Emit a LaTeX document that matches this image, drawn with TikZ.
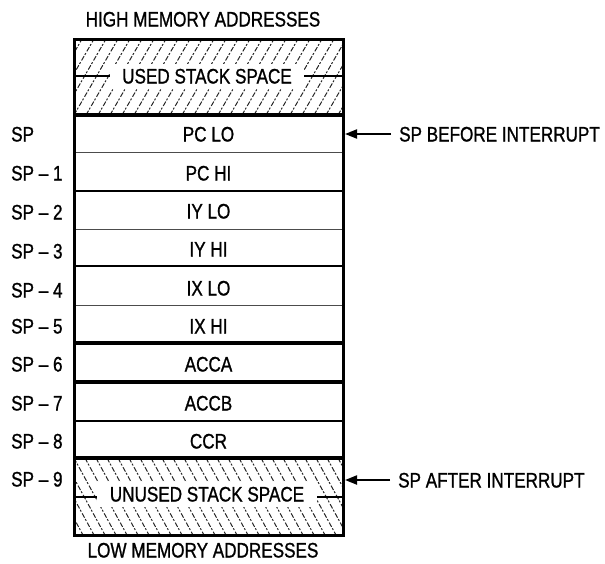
\documentclass[tikz,border=0pt]{standalone}
\usepackage{fontspec}
\setmainfont[FakeStretch=0.815,FakeBold=1]{Liberation Sans}
\usetikzlibrary{arrows.meta}
\tikzset{
  lbl/.style={font=\fontsize{21}{24}\selectfont, inner sep=0pt, text height=15pt, text depth=0pt},
  sidelbl/.style={lbl, anchor=west},
  hatchlbl/.style={lbl, fill=white, inner xsep=12pt, inner ysep=5pt},
  hatchline/.style={line width=1pt, black!85, dash pattern=on 5pt off 1.5pt on 2pt off 2pt},
  thinsep/.style={line width=0.9pt, black!70},
  midsep/.style={line width=2.2pt},
  thicksep/.style={line width=3.4pt},
  frame/.style={line width=3pt},
  sideline/.style={line width=1.8pt},
  pointer/.style={line width=2pt, -{Triangle[length=12pt,width=9pt]}},
}
\begin{document}
\begin{tikzpicture}[x=1pt,y=-1pt]
\useasboundingbox (0,0) rectangle (605,563);

% hatched regions above and below the stack frame
\begin{scope}
  \clip (74,39) rectangle (343,115);
  \foreach \i in {-5,...,24} \draw[hatchline] ({74+12*\i},115) -- ++(44,-76);
\end{scope}
\begin{scope}
  \clip (74,458) rectangle (343,535);
  \foreach \i in {-5,...,26} \draw[hatchline] ({74+11*\i},458) -- ++(42,77);
\end{scope}

\node[hatchlbl] (used) at (207,76) {USED STACK SPACE};
\coordinate (usedL) at (74,76);
\coordinate (usedR) at (343,76);
\draw[sideline] (usedL) -- (used.west);
\draw[sideline] (used.east) -- (usedR);

\node[hatchlbl, inner xsep=13pt] (unused) at (207,494) {UNUSED STACK SPACE};
\coordinate (unusedL) at (74,497);
\coordinate (unusedR) at (343,497);
\draw[sideline] (unusedL) -- (unused.west |- unusedL);
\draw[sideline] (unused.east |- unusedR) -- (unusedR);

% row separators
\draw[thicksep] (74,115) -- (343,115);
\draw[thinsep]  (76,152) -- (343,152);
\draw[midsep]   (74,191) -- (343,191);
\draw[thinsep]  (76,229) -- (343,229);
\draw[midsep]   (74,266) -- (343,266);
\draw[thinsep]  (76,305) -- (343,305);
\draw[thicksep] (74,343) -- (343,343);
\draw[thicksep] (74,382) -- (343,382);
\draw[midsep]   (74,421) -- (343,421);
\draw[thicksep] (74,458) -- (343,458);

% outer frame
\draw[frame] (74,39) rectangle (343,535);

% register contents
\node[lbl] (pclo) at (208.5,134) {PC LO};
\node[lbl] (pchi) at (208.5,173) {PC HI};
\node[lbl] (iylo) at (208.5,211) {IY LO};
\node[lbl] (iyhi) at (208.5,249) {IY HI};
\node[lbl] (ixlo) at (208.5,288) {IX LO};
\node[lbl] (ixhi) at (208.5,326) {IX HI};
\node[lbl] (acca) at (208.5,364) {ACCA};
\node[lbl] (accb) at (208.5,403) {ACCB};
\node[lbl] (ccr)  at (208.5,441) {CCR};

% stack pointer offsets
\node[sidelbl] (sp0) at (11,134) {SP};
\node[sidelbl] (sp1) at (11,173) {SP -- 1};
\node[sidelbl] (sp2) at (11,212) {SP -- 2};
\node[sidelbl] (sp3) at (11,251) {SP -- 3};
\node[sidelbl] (sp4) at (11,290) {SP -- 4};
\node[sidelbl] (sp5) at (11,326) {SP -- 5};
\node[sidelbl] (sp6) at (11,364) {SP -- 6};
\node[sidelbl] (sp7) at (11,403) {SP -- 7};
\node[sidelbl] (sp8) at (11,441) {SP -- 8};
\node[sidelbl] (sp9) at (11,479) {SP -- 9};

% memory direction captions
\node[lbl] (high) at (203,19) {HIGH MEMORY ADDRESSES};
\node[lbl] (low)  at (203,550) {LOW MEMORY ADDRESSES};

% stack pointer markers
\node[sidelbl] (before) at (399,134) {SP BEFORE INTERRUPT};
\node[sidelbl] (after)  at (398,480) {SP AFTER INTERRUPT};
\coordinate (spold) at (345,134);
\coordinate (spnew) at (345,480);
\draw[pointer] ([xshift=-8pt]before.west) -- (spold);
\draw[pointer] ([xshift=-8pt]after.west) -- (spnew);
\end{tikzpicture}
\end{document}
